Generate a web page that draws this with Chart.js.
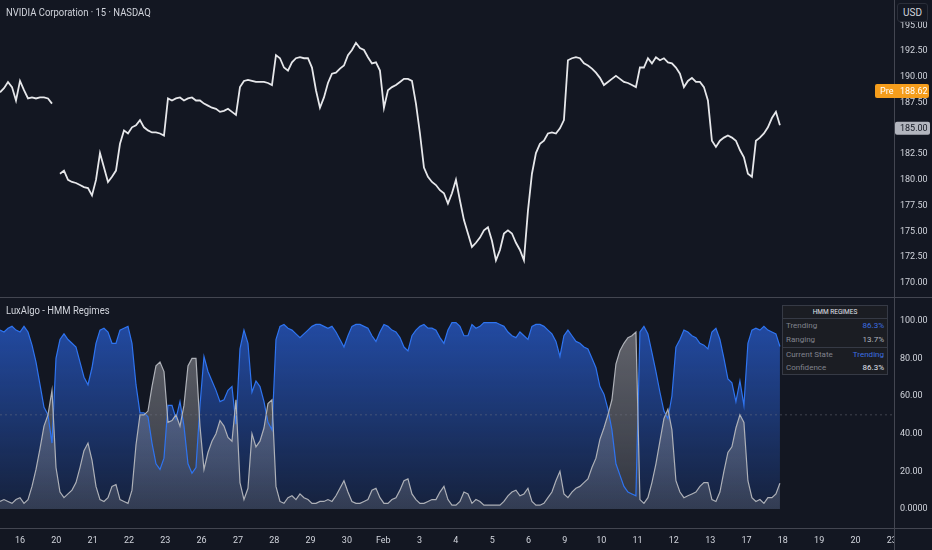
<!DOCTYPE html>
<html>
<head>
<meta charset="utf-8">
<title>NVIDIA 15 - LuxAlgo HMM Regimes</title>
<script src="https://cdn.jsdelivr.net/npm/chart.js@4.4.1/dist/chart.umd.min.js"></script>
<style>
  html, body { margin: 0; padding: 0; background: #131722; overflow: hidden; }
  #wrap { position: relative; width: 932px; height: 550px; color: #d1d4dc; }
  #priceBox { position: absolute; left: 0; top: 0; width: 932px; height: 297px; }
  #regimeBox { position: absolute; left: 0; top: 298px; width: 932px; height: 252px; }
  canvas { display: block; }
  .line { position: absolute; background: #434651; }
  .title { position: absolute; font-size: 11px; white-space: nowrap; transform-origin: 0 50%; }
  #usd { position: absolute; left: 897px; top: 3px; width: 31px; height: 19px; border: 1px solid #2a2e39; border-radius: 3px;
         background: #131722; font-size: 10px; line-height: 18px; text-align: center; box-sizing: border-box; }
  #cornerMask { position: absolute; left: 895px; top: 529px; width: 37px; height: 21px; background: #131722; }
  #hmmTable { position: absolute; left: 782px; top: 305px; width: 106px; height: 70px; box-sizing: border-box;
              background: #1b1d23; border: 1px solid #363a45; font-size: 8px; }
  #hmmTable .hdr { height: 12px; line-height: 12px; text-align: center; color: #e0e3eb; font-size: 6.5px; border-bottom: 1px solid #363a45; }
  #hmmTable .row { height: 14px; line-height: 14px; padding: 0 3px 0 3px; display: flex; justify-content: space-between; color: #80838d; }
  #hmmTable .row.sep { border-top: 1px solid #363a45; height: 13px; line-height: 13px; }
  #hmmTable .blue { color: #3b6fe0; }
  #hmmTable .light { color: #b2b5be; }
  #hmmTable .white { color: #e0e3eb; }
</style>
</head>
<body>
<div id="wrap">
  <div id="priceBox"><canvas id="priceChart" width="932" height="297"></canvas></div>
  <div id="regimeBox"><canvas id="regimeChart" width="932" height="252"></canvas></div>
  <div class="line" style="left:0; top:297px; width:932px; height:1px;"></div>
  <div id="cornerMask"></div>
  <div class="line" style="left:0; top:528px; width:932px; height:1px;"></div>
  <div class="line" style="left:894px; top:528px; width:1px; height:22px;"></div>
  <div class="title" style="left:6px; top:6px;">NVIDIA Corporation · 15 · NASDAQ</div>
  <div class="title" style="left:6px; top:304px;">LuxAlgo - HMM Regimes</div>
  <div id="usd">USD</div>
  <div id="hmmTable">
    <div class="hdr">HMM REGIMES</div>
    <div class="row"><span>Trending</span><span class="blue" id="valTrend"></span></div>
    <div class="row"><span>Ranging</span><span class="light" id="valRange"></span></div>
    <div class="row sep"><span>Current State</span><span class="blue" id="valState"></span></div>
    <div class="row"><span>Confidence</span><span class="white" id="valConf"></span></div>
  </div>
</div>

<script>
// sessions on the time axis (one tick per trading day)
const dayLabels = ['16', '20', '21', '22', '23', '26', '27', '28', '29', '30', 'Feb', '3', '4', '5', '6', '9', '10', '11', '12', '13', '17', '18', '19', '20', '23'];
const dayTicks = dayLabels.map((_, i) => i);

const priceTicks = [170, 172.5, 175, 177.5, 180, 182.5, 185, 187.5, 190, 192.5, 195];
const regimeTicks = [0, 20, 40, 60, 80, 100];

// NVDA 15m closes, one sample every ~1/9 session
const closePrices = [
  188.5, 188.9, 189.5, 189.0, 187.7, 189.6, 188.7, 187.9, 188.0, 187.9,
  188.0, 188.0, 187.9, 187.4, null, 180.6, 180.9, 180.0, 179.8, 179.7,
  179.5, 179.3, 179.2, 178.5, 180.0, 182.6, 181.2, 179.8, 180.3, 180.9,
  183.5, 184.8, 184.5, 185.1, 185.3, 185.8, 185.1, 184.8, 184.6, 184.6,
  184.5, 184.3, 187.9, 187.7, 187.9, 188.0, 187.7, 187.9, 188.0, 187.7,
  187.7, 187.4, 187.2, 187.0, 186.9, 186.6, 186.7, 186.9, 186.6, 186.3,
  189.0, 189.6, 189.7, 189.6, 189.5, 189.5, 189.5, 189.4, 189.2, 192.1,
  191.8, 190.9, 190.6, 191.4, 191.8, 191.9, 191.8, 191.8, 190.9, 188.7,
  187.0, 188.0, 189.4, 190.3, 190.4, 190.8, 191.1, 192.1, 192.6, 193.3,
  192.8, 192.6, 191.9, 191.3, 191.4, 190.6, 187.0, 188.7, 189.0, 189.2,
  189.5, 189.8, 189.8, 189.6, 187.4, 184.5, 181.2, 180.3, 179.8, 179.5,
  179.0, 178.7, 177.7, 178.7, 180.0, 178.0, 176.1, 174.8, 173.5, 173.9,
  174.4, 175.1, 175.4, 174.1, 172.2, 173.2, 174.8, 175.1, 174.8, 173.9,
  173.2, 172.2, 177.0, 180.6, 182.6, 183.5, 183.8, 184.5, 184.6, 184.5,
  185.0, 185.8, 191.6, 191.8, 191.9, 191.8, 191.3, 191.1, 190.8, 190.4,
  189.9, 189.2, 189.5, 189.8, 190.1, 189.8, 189.5, 189.4, 189.2, 189.0,
  190.9, 190.9, 191.8, 191.3, 191.9, 191.6, 191.8, 191.4, 191.3, 190.9,
  190.3, 189.0, 189.6, 189.9, 189.5, 189.5, 189.0, 187.7, 183.8, 183.2,
  183.8, 184.1, 184.3, 184.1, 183.8, 182.9, 182.2, 180.6, 180.3, 183.8,
  184.1, 184.5, 185.1, 186.0, 186.6, 185.3
];

// HMM state probabilities (%)
const trendProb = [
  95, 94, 96, 97, 95, 94, 97, 94, 87, 78,
  66, 54, 50, 35, 80, 90, 93, 90, 88, 86,
  78, 70, 66, 75, 88, 95, 96, 94, 88, 88,
  95, 96, 97, 88, 66, 51, 51, 49, 35, 24,
  21, 27, 55, 55, 48, 57, 44, 24, 19, 22,
  55, 81, 73, 68, 63, 57, 58, 63, 65, 45,
  85, 95, 88, 62, 68, 65, 57, 46, 42, 90,
  97, 98, 96, 95, 93, 91, 93, 95, 97, 98,
  98, 97, 96, 97, 94, 90, 86, 92, 97, 98,
  98, 97, 96, 92, 89, 94, 98, 97, 95, 94,
  91, 86, 84, 92, 95, 97, 98, 96, 96, 95,
  91, 88, 95, 99, 99, 97, 92, 92, 98, 96,
  97, 99, 99, 99, 99, 98, 97, 94, 92, 91,
  94, 92, 90, 97, 98, 98, 97, 95, 93, 89,
  81, 92, 95, 92, 89, 88, 86, 85, 80, 75,
  65, 61, 53, 42, 24, 18, 12, 9, 8, 7,
  94, 97, 93, 83, 73, 62, 52, 48, 60, 86,
  90, 95, 94, 92, 91, 88, 87, 85, 94, 96,
  90, 80, 69, 67, 57, 68, 55, 88, 95, 96,
  95, 97, 95, 94, 93, 86.3
];
const rangeProb = [
  4, 5, 4, 3, 5, 6, 3, 5, 12, 21,
  32, 44, 50, 63, 22, 9, 6, 8, 10, 14,
  22, 31, 35, 26, 12, 5, 4, 6, 12, 13,
  5, 4, 3, 10, 34, 50, 50, 52, 65, 76,
  78, 73, 46, 47, 50, 44, 55, 76, 80, 80,
  44, 21, 30, 36, 40, 47, 44, 38, 36, 58,
  14, 5, 11, 40, 33, 36, 43, 56, 58, 12,
  4, 3, 6, 7, 5, 8, 6, 5, 3, 3,
  4, 4, 5, 4, 7, 11, 15, 9, 4, 3,
  3, 4, 5, 10, 11, 6, 3, 3, 5, 6,
  10, 15, 16, 8, 5, 3, 3, 4, 5, 5,
  9, 12, 5, 2, 2, 4, 9, 8, 3, 5,
  4, 2, 2, 2, 2, 2, 4, 7, 9, 10,
  7, 8, 11, 4, 2, 2, 3, 6, 9, 15,
  20, 8, 6, 9, 11, 12, 14, 16, 22, 27,
  37, 43, 50, 58, 77, 84, 88, 91, 92, 94,
  5, 3, 6, 14, 24, 36, 48, 53, 42, 15,
  9, 6, 7, 8, 9, 12, 14, 14, 5, 4,
  9, 20, 30, 33, 43, 50, 46, 15, 6, 4,
  5, 3, 6, 6, 8, 13.7
];

const PRE_PRICE = 188.62;
const LAST_PRICE = 185.00;
const MID_LEVEL = 50;

// time layout (in sessions)
const X_MIN = -0.55;
const X_MAX = 24.06;
const SAMPLE_STEP = 0.1101;
const PRICE_MIN = 168.64, PRICE_MAX = 197.45;
const REGIME_MIN = -10.1, REGIME_MAX = 112.05;

const TEXT = '#d1d4dc';
const AXIS = '#434651';

// narrow face if the machine has it, otherwise Roboto squeezed down
function fontAvailable(name) {
  const c = document.createElement('canvas').getContext('2d');
  c.font = '20px monospace';
  const w1 = c.measureText('mmmwwiil1234.50').width;
  c.font = "20px '" + name + "', monospace";
  return c.measureText('mmmwwiil1234.50').width !== w1;
}
const NARROW = fontAvailable('Liberation Sans Narrow');
const FAMILY = NARROW ? "'Liberation Sans Narrow', sans-serif" : 'Roboto, sans-serif';
const AXIS_SIZE = NARROW ? 10.5 : 9;
const AXIS_FONT = { family: FAMILY, size: AXIS_SIZE };

document.getElementById('wrap').style.fontFamily = FAMILY;
if (!NARROW) {
  document.querySelectorAll('.title').forEach(el => { el.style.transform = 'scaleX(0.86)'; });
}

function toPoints(values) {
  return values.map((v, i) => ({ x: X_MIN + i * SAMPLE_STEP, y: v }));
}

function fixYAxis(scale) {
  scale.width = 38;
  scale.paddingTop = 0;
  scale.paddingBottom = 0;
}

function fixXAxis(scale) {
  scale.height = 22;
  scale.paddingLeft = 0;
  scale.paddingRight = 0;
}

function yAxis(min, max, ticks, fmt) {
  return {
    position: 'right', min: min, max: max,
    afterFit: fixYAxis,
    afterBuildTicks: s => { s.ticks = ticks.map(v => ({ value: v })); },
    grid: { display: false, drawTicks: false, tickLength: 0 },
    border: { color: AXIS, width: 1 },
    ticks: { color: TEXT, font: AXIS_FONT, padding: 6, callback: fmt }
  };
}

function paneGradient(context, stops) {
  const chart = context.chart;
  if (!chart.chartArea) return 'transparent';
  const y = chart.scales.y;
  const g = chart.ctx.createLinearGradient(0, y.getPixelForValue(100), 0, y.getPixelForValue(0));
  stops.forEach(s => g.addColorStop(s[0], s[1]));
  return g;
}

function drawTag(ctx, x, yMid, w, h, bg, parts) {
  ctx.save();
  ctx.fillStyle = bg;
  ctx.beginPath();
  ctx.roundRect(x, yMid - h / 2, w, h, 2);
  ctx.fill();
  ctx.font = AXIS_SIZE + 'px ' + FAMILY;
  ctx.textBaseline = 'middle';
  ctx.textAlign = 'left';
  parts.forEach(p => {
    ctx.fillStyle = p.color;
    ctx.fillText(p.text, p.x, yMid + 0.5);
  });
  ctx.restore();
}

const priceTags = {
  id: 'priceTags',
  afterDraw(chart) {
    const { ctx, chartArea, scales } = chart;
    const r = chartArea.right;
    drawTag(ctx, r + 1, scales.y.getPixelForValue(LAST_PRICE), 35, 13, '#b2b5be',
      [{ text: LAST_PRICE.toFixed(2), x: r + 6, color: '#131722' }]);
    drawTag(ctx, r - 19, scales.y.getPixelForValue(PRE_PRICE), 54, 14, '#f59d1c',
      [{ text: 'Pre', x: r - 14, color: '#ffffff' }, { text: PRE_PRICE.toFixed(2), x: r + 6, color: '#ffffff' }]);
  }
};

const baseOptions = {
  responsive: false,
  animation: false,
  events: [],
  layout: { padding: 0 },
  plugins: { legend: { display: false }, tooltip: { enabled: false } }
};

new Chart(document.getElementById('priceChart'), {
  type: 'line',
  data: {
    datasets: [{
      data: toPoints(closePrices),
      borderColor: '#e6e7ea',
      borderWidth: 1.8,
      pointRadius: 0,
      tension: 0,
      spanGaps: false
    }]
  },
  options: Object.assign({}, baseOptions, {
    scales: {
      x: { type: 'linear', min: X_MIN, max: X_MAX, display: false },
      y: yAxis(PRICE_MIN, PRICE_MAX, priceTicks, v => v.toFixed(2))
    }
  }),
  plugins: [priceTags]
});

new Chart(document.getElementById('regimeChart'), {
  type: 'line',
  data: {
    datasets: [
      {
        label: 'Trending',
        data: toPoints(trendProb),
        borderColor: '#2f74f0',
        borderWidth: 1.2,
        pointRadius: 0,
        tension: 0,
        fill: 'origin',
        order: 2,
        backgroundColor: ctx => paneGradient(ctx, [
          [0, 'rgba(45,110,250,0.6)'], [0.5, 'rgba(45,110,250,0.36)'], [1, 'rgba(45,110,250,0.12)']
        ])
      },
      {
        label: 'Ranging',
        data: toPoints(rangeProb),
        borderColor: '#aeb1b8',
        borderWidth: 1.2,
        pointRadius: 0,
        tension: 0,
        fill: 'origin',
        order: 1,
        backgroundColor: ctx => paneGradient(ctx, [
          [0, 'rgba(150,150,156,0.62)'], [0.6, 'rgba(140,142,150,0.42)'], [1, 'rgba(140,143,152,0.24)']
        ])
      },
      {
        label: 'Mid',
        data: [{ x: X_MIN, y: MID_LEVEL }, { x: X_MAX, y: MID_LEVEL }],
        borderColor: 'rgba(120,123,134,0.45)',
        borderWidth: 1,
        borderDash: [2, 3],
        pointRadius: 0,
        fill: false,
        order: 0
      }
    ]
  },
  options: Object.assign({}, baseOptions, {
    plugins: Object.assign({}, baseOptions.plugins, { filler: { drawTime: 'beforeDatasetsDraw' } }),
    scales: {
      x: {
        type: 'linear', min: X_MIN, max: X_MAX,
        afterFit: fixXAxis,
        afterBuildTicks: s => { s.ticks = dayTicks.map(v => ({ value: v })); },
        grid: { display: false, drawTicks: false, tickLength: 0 },
        border: { color: AXIS, width: 1 },
        ticks: { color: TEXT, font: AXIS_FONT, padding: 7, autoSkip: false, maxRotation: 0,
                 callback: (v, i) => dayLabels[i] }
      },
      y: yAxis(REGIME_MIN, REGIME_MAX, regimeTicks, v => v === 0 ? '0.0000' : v.toFixed(2))
    }
  })
});

const lastTrend = trendProb[trendProb.length - 1];
const lastRange = rangeProb[rangeProb.length - 1];
document.getElementById('valTrend').textContent = lastTrend.toFixed(1) + '%';
document.getElementById('valRange').textContent = lastRange.toFixed(1) + '%';
document.getElementById('valState').textContent = lastTrend >= lastRange ? 'Trending' : 'Ranging';
document.getElementById('valConf').textContent = Math.max(lastTrend, lastRange).toFixed(1) + '%';
</script>
</body>
</html>
